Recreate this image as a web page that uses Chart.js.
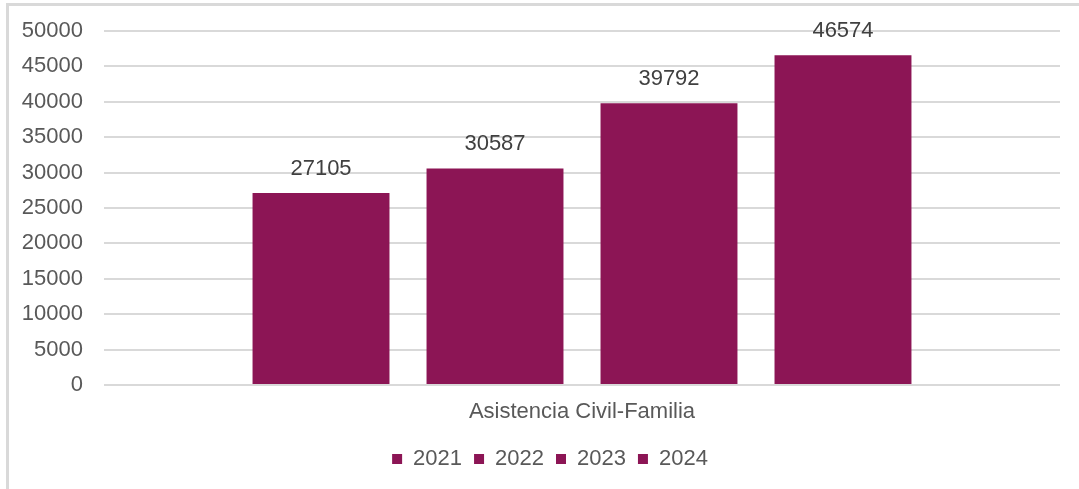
<!DOCTYPE html>
<html>
<head>
<meta charset="utf-8">
<script src="https://cdn.jsdelivr.net/npm/chart.js@4"></script>
<style>
  html, body { margin: 0; padding: 0; background: #fff; overflow: hidden; }
  #wrap { position: relative; width: 1079px; height: 489px; }
  #frame { position: absolute; left: 6px; top: 3px; width: 1100px; height: 520px;
           border-top: 3px solid #d9d9d9; border-left: 3px solid #d9d9d9; }
</style>
</head>
<body>
<div id="wrap">
  <div id="frame"></div>
  <canvas id="myChart"></canvas>
</div>
<script>
// chart data
const categories = ['Asistencia Civil-Familia'];
const years = ['2021', '2022', '2023', '2024'];
const values2021 = [27105];
const values2022 = [30587];
const values2023 = [39792];
const values2024 = [46574];
const yTicks = { min: 0, max: 50000, step: 5000 };

const barColor = '#8C1555';
const fontFamily = '"Liberation Sans", Arial, sans-serif';

// labels above bars, taken from the bar elements
const barLabels = {
    id: 'barLabels',
    afterDatasetsDraw: chart => {
        const ctx = chart.ctx;
        ctx.save();
        ctx.font = '22px ' + fontFamily;
        ctx.fillStyle = '#404040';
        ctx.textAlign = 'center';
        ctx.textBaseline = 'alphabetic';
        chart.data.datasets.forEach((ds, i) => {
            chart.getDatasetMeta(i).data.forEach((bar, j) => {
                ctx.fillText(String(ds.data[j]), bar.x, bar.y - 18);
            });
        });
        ctx.restore();
    }
};

// legend sits a bit right of centre in the original
const legendShift = {
    id: 'legendShift',
    afterLayout: chart => {
        const lg = chart.legend;
        lg.left += 20;
        lg.right += 20;
    }
};

const allValues = [values2021, values2022, values2023, values2024];

const ctx = document.getElementById('myChart').getContext('2d');
const myChart = new Chart(ctx, {
    type: 'bar',
    data: {
        labels: categories,
        datasets: years.map((y, i) => ({
            label: y,
            data: allValues[i],
            backgroundColor: barColor,
            borderWidth: 0,
            categoryPercentage: 0.728,
            barPercentage: 0.787
        }))
    },
    options: {
        responsive: true,
        maintainAspectRatio: false,
        animation: false,
        layout: { padding: { left: 0, right: 19, top: 31, bottom: 9 } },
        plugins: {
            tooltip: { enabled: false },
            legend: {
                position: 'bottom',
                labels: {
                    boxWidth: 10,
                    boxHeight: 10,
                    padding: 12,
                    color: '#595959',
                    font: { family: fontFamily, size: 22 }
                }
            }
        },
        scales: {
            x: {
                grid: { display: false },
                border: { display: false },
                ticks: {
                    color: '#595959',
                    padding: 6,
                    font: { family: fontFamily, size: 22 }
                },
                afterFit: s => { s.height = 51; }
            },
            y: {
                min: yTicks.min,
                max: yTicks.max,
                border: { display: false },
                grid: { color: '#d9d9d9', lineWidth: 2, drawTicks: true, tickLength: 21, tickColor: 'rgba(0,0,0,0)' },
                ticks: {
                    stepSize: yTicks.step,
                    color: '#595959',
                    padding: 0,
                    font: { family: fontFamily, size: 22 },
                    callback: v => String(v)
                },
                afterFit: s => { s.width = 104; }
            }
        }
    },
    plugins: [barLabels, legendShift]
});
</script>
</body>
</html>
